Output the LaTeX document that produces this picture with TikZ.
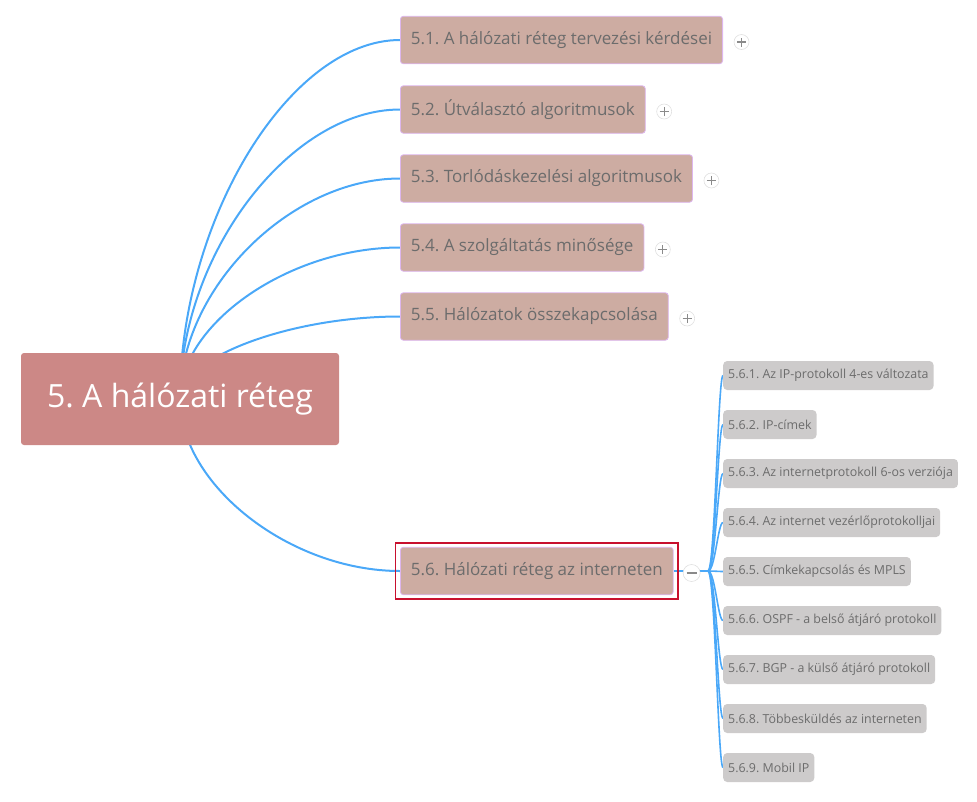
\documentclass[tikz,border=0pt]{standalone}
\usepackage{fontspec}
\setmainfont{Open Sans}
\usetikzlibrary{calc,backgrounds}
\frenchspacing

\definecolor{rootfill}{HTML}{CC8886}
\definecolor{topicfill}{HTML}{CDACA2}
\definecolor{topicline}{HTML}{DDB6EE}
\definecolor{subfill}{HTML}{CDCBCB}
\definecolor{branchcol}{HTML}{4AA8F8}
\definecolor{txtcol}{HTML}{6C6C6C}
\definecolor{signcol}{HTML}{8A8A8A}
\definecolor{selred}{HTML}{C8102E}

\begin{document}
\begin{tikzpicture}
  [x=1pt,y=-1pt,
   root/.style={fill=rootfill,rounded corners=3pt,text=white,
     font=\fontsize{32}{36}\selectfont,minimum width=318,minimum height=92},
   topic/.style={anchor=west,fill=topicfill,draw=topicline,line width=.8pt,
     rounded corners=3pt,text=txtcol,font=\fontsize{17}{20}\selectfont,
     inner xsep=10.5pt,minimum height=47.5},
   subtopic/.style={anchor=west,fill=subfill,rounded corners=4pt,text=txtcol,
     font=\fontsize{12.4}{14}\selectfont,inner xsep=5pt,minimum height=29},
   branch/.style={draw=branchcol,line width=2pt},
   fold/.style={circle,fill=white,draw=black!12,line width=.6pt,minimum size=15,inner sep=0pt},
   foldplus/.style={fold,path picture={
     \draw[signcol,line width=1.1pt] ([xshift=-4.5]path picture bounding box.center) -- ([xshift=4.5]path picture bounding box.center);
     \draw[signcol,line width=1.1pt] ([yshift=-4.5]path picture bounding box.center) -- ([yshift=4.5]path picture bounding box.center);}},
   foldminus/.style={fold,minimum size=17,path picture={
     \draw[signcol,line width=1.1pt] ([xshift=-5]path picture bounding box.center) -- ([xshift=5]path picture bounding box.center);}}]
  \useasboundingbox (0,0) rectangle (977,801);

  \node [root] (r) at (180,399) {5. A hálózati réteg};

  \node [topic] (t1) at (400,40) {5.1. A hálózati réteg tervezési kérdései};
  \node [topic] (t2) at (400,109.5) {5.2. Útválasztó algoritmusok};
  \node [topic] (t3) at (400,178.5) {5.3. Torlódáskezelési algoritmusok};
  \node [topic] (t4) at (400,247.5) {5.4. A szolgáltatás minősége};
  \node [topic] (t5) at (400,316.5) {5.5. Hálózatok összekapcsolása};
  \node [topic] (t6) at (400,571) {5.6. Hálózati réteg az interneten};

  \node [subtopic] (s1) at (723,375.5) {5.6.1. Az IP-protokoll 4-es változata};
  \node [subtopic] (s2) at (723,424.5) {5.6.2. IP-címek};
  \node [subtopic] (s3) at (723,473.5) {5.6.3. Az internetprotokoll 6-os verziója};
  \node [subtopic] (s4) at (723,522.5) {5.6.4. Az internet vezérlőprotokolljai};
  \node [subtopic] (s5) at (723,571.5) {5.6.5. Címkekapcsolás és MPLS};
  \node [subtopic] (s6) at (723,620.5) {5.6.6. OSPF - a belső átjáró protokoll};
  \node [subtopic] (s7) at (723,669.5) {5.6.7. BGP - a külső átjáró protokoll};
  \node [subtopic] (s8) at (723,718.5) {5.6.8. Többesküldés az interneten};
  \node [subtopic] (s9) at (723,767.5) {5.6.9. Mobil IP};

  \coordinate (j) at (708,571);

  \begin{pgfonlayer}{background}
    \foreach \to in {t1,t2,t3,t4,t5,t6}
      \draw [branch] (r.center) .. controls ($(r.center)!.5!(r.center |- \to.west)$)
        and ($(\to.west)+(-110,0)$) .. (\to.west);
    \foreach \to in {s1,s2,s3,s4,s5,s6,s7,s8,s9}
      \draw [branch,line width=1.6pt] (j) .. controls +(7,0) and +(-5,0) .. (\to.west);
    \draw [branch,line width=2.8pt] (t6.east) -- (j);
  \end{pgfonlayer}

  \foreach \t in {t1,t2,t3,t4,t5}
    \node [foldplus] at ([shift={(18.5,2)}]\t.east) {};
  \node [foldminus] (f6) at ([shift={(18,2)}]t6.east) {};

  \draw [selred,line width=1.6pt] ([shift={(-4.5,-4)}]t6.north west) rectangle ([shift={(4.5,4)}]t6.south east);
\end{tikzpicture}
\end{document}
